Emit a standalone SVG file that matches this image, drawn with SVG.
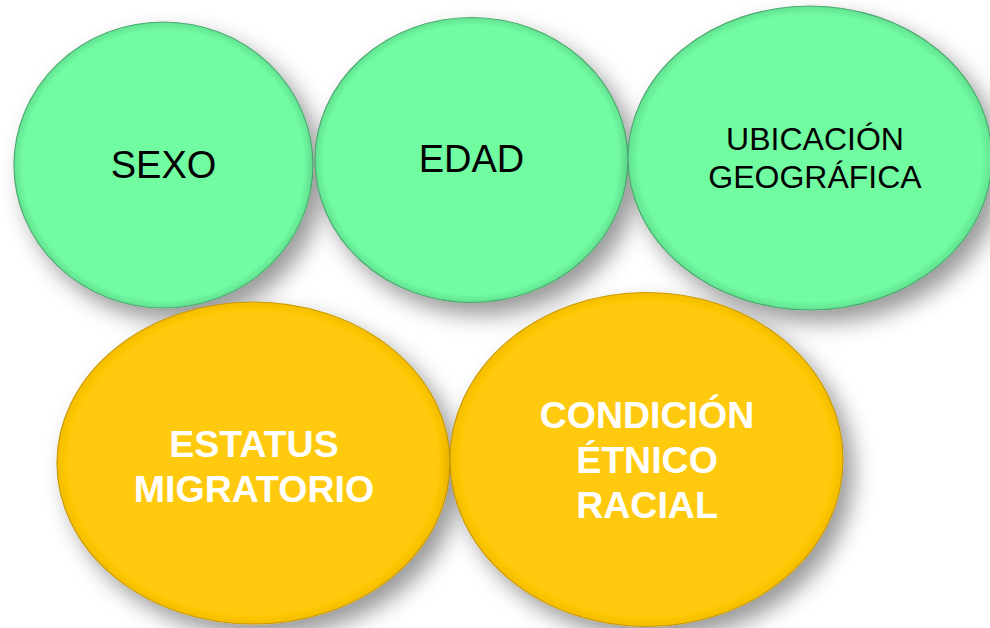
<svg xmlns="http://www.w3.org/2000/svg" width="990" height="628" viewBox="0 0 990 628">
  <defs>
    <filter id="shadow" x="-20%" y="-20%" width="150%" height="150%">
      <feDropShadow dx="10" dy="12" stdDeviation="11" flood-color="#000" flood-opacity="0.4"/>
    </filter>
    <radialGradient id="bevelG" cx="50%" cy="50%" r="50%">
      <stop offset="0.94" stop-color="#72fca2"/>
      <stop offset="1" stop-color="#62e291"/>
    </radialGradient>
    <radialGradient id="bevelO" cx="50%" cy="50%" r="50%">
      <stop offset="0.94" stop-color="#ffca08"/>
      <stop offset="1" stop-color="#f5bd00"/>
    </radialGradient>
  </defs>
  <style>
    .g { fill: url(#bevelG); stroke: #4fa870; stroke-width: 1.2; filter: url(#shadow); }
    .o { fill: url(#bevelO); stroke: #c99a00; stroke-width: 1.2; filter: url(#shadow); }
    .tg { font-family: "Liberation Sans", Arial, sans-serif; font-size: 38px; fill: #000; text-anchor: middle; }
    .to { font-family: "Liberation Sans", Arial, sans-serif; font-size: 37.5px; font-weight: bold; fill: #fff; text-anchor: middle; }
  </style>
  <rect width="990" height="628" fill="#fff"/>
  <g id="connectors"/>
  <g id="sexo">
    <ellipse class="g" cx="163.5" cy="165" rx="149.5" ry="143"/>
    <text class="tg" x="163.5" y="178">SEXO</text>
  </g>
  <g id="edad">
    <ellipse class="g" cx="471.5" cy="160" rx="156.5" ry="142.5"/>
    <text class="tg" x="471.5" y="172">EDAD</text>
  </g>
  <g id="ubicacion">
    <ellipse class="g" cx="810" cy="158" rx="182" ry="152"/>
    <text class="tg" style="font-size:32px" x="815" y="150">UBICACIÓN</text>
    <text class="tg" style="font-size:32px" x="815" y="188">GEOGRÁFICA</text>
  </g>
  <g id="estatus">
    <ellipse class="o" cx="253.5" cy="463" rx="196.5" ry="161"/>
    <text class="to" x="254" y="457">ESTATUS</text>
    <text class="to" x="254" y="502">MIGRATORIO</text>
  </g>
  <g id="condicion">
    <ellipse class="o" cx="646.5" cy="459.5" rx="196.5" ry="167"/>
    <text class="to" x="647" y="428">CONDICIÓN</text>
    <text class="to" x="647" y="473">ÉTNICO</text>
    <text class="to" x="647" y="518">RACIAL</text>
  </g>
</svg>
